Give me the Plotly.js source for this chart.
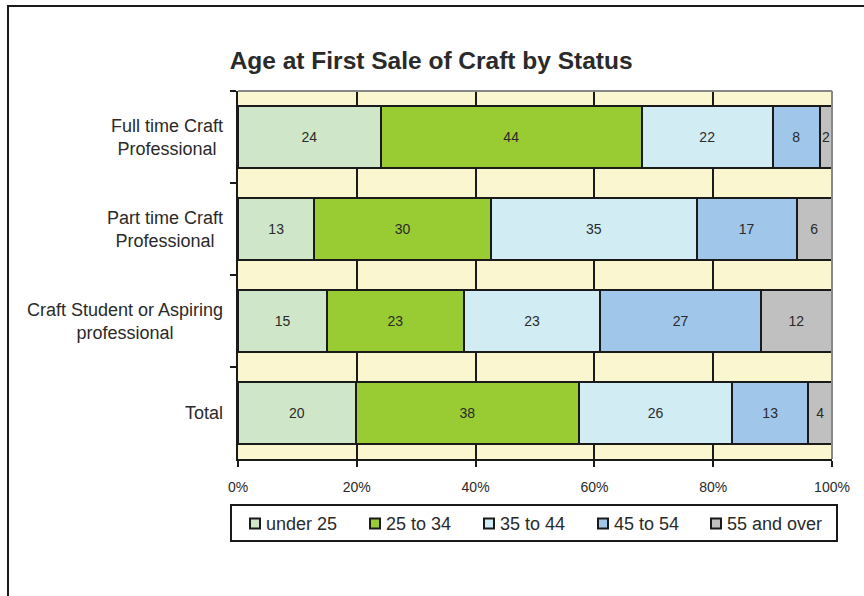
<!DOCTYPE html>
<html>
<head>
<meta charset="utf-8">
<script src="https://cdn.plot.ly/plotly-3.0.1.min.js"></script>
<style>html,body{margin:0;padding:0;background:#fff;}#chart{width:864px;height:596px;}</style>
</head>
<body>
<div id="chart"></div>
<script>
var categories = ["Full time Craft<br>Professional", "Part time Craft<br>Professional", "Craft Student or Aspiring<br>professional", "Total"];
var seriesNames = ["under 25", "25 to 34", "35 to 44", "45 to 54", "55 and over"];
var under25 = [24, 13, 15, 20];
var age25to34 = [44, 30, 23, 38];
var age35to44 = [22, 35, 23, 26];
var age45to54 = [8, 17, 27, 13];
var age55over = [2, 6, 12, 4];
var xTickVals = [0, 20, 40, 60, 80, 100];
var xTickText = ["0%", "20%", "40%", "60%", "80%", "100%"];
var chartTitle = "Age at First Sale of Craft by Status";

var colors = ["#CFE6C8", "#99CC33", "#D2ECF3", "#A0C6EA", "#C0C0C0"];
var allSeries = [under25, age25to34, age35to44, age45to54, age55over];
var FONT = "Liberation Sans, Arial, sans-serif";

// pixel -> paper helpers (plot area: x 238..832, y 91..459)
function px(x) { return (x - 238) / 594; }
function py(y) { return (459 - y) / 368; }

var traces = allSeries.map(function (vals, i) {
  return {
    type: "bar",
    orientation: "h",
    name: seriesNames[i],
    y: categories,
    x: vals,
    text: vals.map(String),
    texttemplate: "%{text}",
    textposition: "inside",
    insidetextanchor: "middle",
    constraintext: "none",
    textangle: 0,
    textfont: {family: FONT, size: 14, color: "#2a2a2a"},
    marker: {color: colors[i], line: {color: "#1a1a1a", width: 2}},
    hoverinfo: "skip",
    showlegend: false,
    cliponaxis: false
  };
});

var annotations = categories.map(function (c) {
  return {
    xref: "paper", yref: "y", x: px(225), y: c,
    xanchor: "right", yanchor: "middle", align: "center",
    text: c, showarrow: false,
    font: {family: FONT, size: 18, color: "#2a2a2a"}
  };
});

var shapes = [
  {type: "rect", xref: "paper", yref: "paper", x0: px(231), x1: px(837), y0: py(541), y1: py(505),
   line: {color: "#1a1a1a", width: 2}, fillcolor: "rgba(0,0,0,0)"},
  {type: "rect", xref: "paper", yref: "paper", x0: px(8), x1: px(880), y0: py(620), y1: py(6),
   line: {color: "#1a1a1a", width: 2}, fillcolor: "rgba(0,0,0,0)"},
  {type: "line", xref: "paper", yref: "paper", x0: 0, x1: 1, y0: 1, y1: 1, line: {color: "#888", width: 2}},
  {type: "line", xref: "paper", yref: "paper", x0: 1, x1: 1, y0: 0, y1: 1, line: {color: "#888", width: 2}}
];

// legend drawn as keys + labels
var legendLeft = [250, 370, 484, 598, 711];
seriesNames.forEach(function (name, i) {
  shapes.push({type: "rect", xref: "paper", yref: "paper",
    x0: px(legendLeft[i]), x1: px(legendLeft[i] + 10), y0: py(528.5), y1: py(518.5),
    line: {color: "#1a1a1a", width: 2}, fillcolor: colors[i]});
  annotations.push({xref: "paper", yref: "paper", x: px(legendLeft[i] + 14), y: py(524),
    xanchor: "left", yanchor: "middle", text: name, showarrow: false,
    font: {family: FONT, size: 18, color: "#2a2a2a"}});
});

var layout = {
  width: 864, height: 596,
  margin: {l: 238, r: 32, t: 91, b: 137},
  paper_bgcolor: "#ffffff",
  plot_bgcolor: "#FAF7D0",
  barmode: "stack",
  barnorm: "percent",
  bargap: 0.33,
  font: {family: FONT, color: "#2a2a2a"},
  showlegend: false,
  title: {
    text: "<b>" + chartTitle + "</b>",
    xref: "container", yref: "container",
    x: 0.499, y: 1 - 60 / 596, xanchor: "center", yanchor: "middle",
    font: {family: FONT, size: 24.5, color: "#2a2a2a"}
  },
  xaxis: {
    range: [0, 100], tickvals: xTickVals, ticktext: xTickText,
    showgrid: true, gridcolor: "#1a1a1a", gridwidth: 2,
    showline: true, linecolor: "#1a1a1a", linewidth: 2,
    ticks: "outside", ticklen: 6, tickwidth: 2, tickcolor: "#1a1a1a",
    ticklabelstandoff: 8,
    tickfont: {family: FONT, size: 14, color: "#2a2a2a"},
    zeroline: false, fixedrange: true
  },
  yaxis: {
    type: "category", autorange: "reversed",
    showticklabels: false,
    tickson: "boundaries", ticks: "outside", ticklen: 6, tickwidth: 2, tickcolor: "#1a1a1a",
    showline: true, linecolor: "#1a1a1a", linewidth: 2,
    showgrid: false, zeroline: false, fixedrange: true
  },
  annotations: annotations,
  shapes: shapes
};

Plotly.newPlot("chart", traces, layout, {displayModeBar: false, staticPlot: true});
</script>
</body>
</html>
